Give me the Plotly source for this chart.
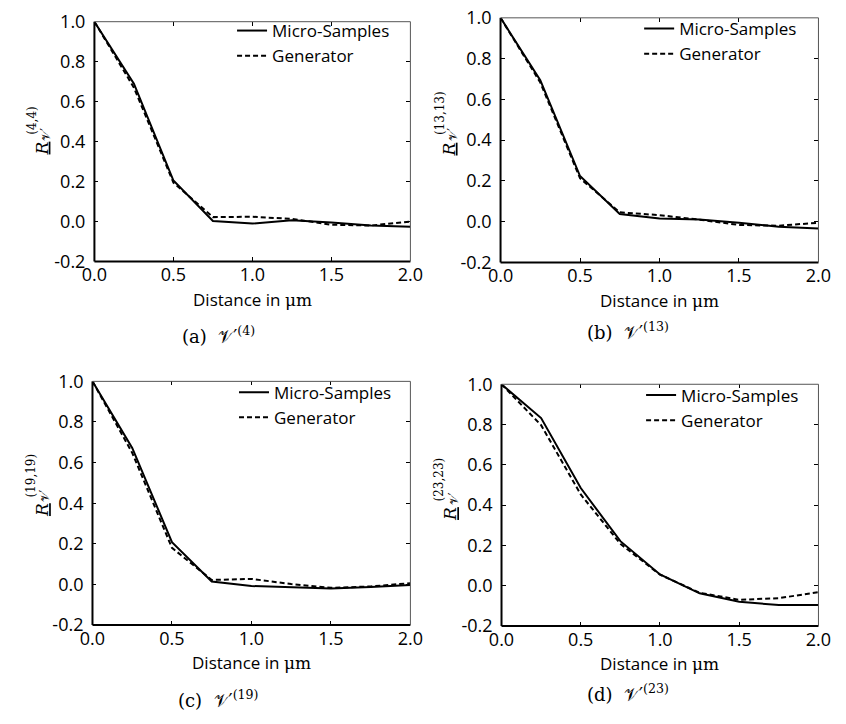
import plotly.graph_objects as go

# Spatial auto-correlation of micro-samples vs. generator output
distance_um = [0.0, 0.25, 0.5, 0.75, 1.0, 1.25, 1.5, 1.75, 2.0]

micro_v4 = [1.0, 0.69, 0.205, 0.003, -0.01, 0.006, -0.005, -0.02, -0.026]
gen_v4 = [1.0, 0.67, 0.195, 0.022, 0.024, 0.013, -0.016, -0.02, 0.0]

micro_v13 = [1.0, 0.694, 0.224, 0.038, 0.016, 0.011, -0.005, -0.025, -0.033]
gen_v13 = [1.0, 0.683, 0.213, 0.046, 0.032, 0.01, -0.016, -0.02, -0.005]

micro_v19 = [1.0, 0.672, 0.208, 0.014, -0.008, -0.013, -0.02, -0.013, -0.003]
gen_v19 = [1.0, 0.648, 0.18, 0.022, 0.027, 0.002, -0.017, -0.01, 0.006]

micro_v23 = [1.0, 0.832, 0.485, 0.221, 0.056, -0.038, -0.08, -0.096, -0.096]
gen_v23 = [1.0, 0.797, 0.453, 0.208, 0.055, -0.035, -0.07, -0.062, -0.032]

x_tickvals = [0.0, 0.5, 1.0, 1.5, 2.0]
x_ticktext = ["0.0", "0.5", "1.0", "1.5", "2.0"]
y_tickvals = [-0.2, 0.0, 0.2, 0.4, 0.6, 0.8, 1.0]
y_ticktext = ["-0.2", "0.0", "0.2", "0.4", "0.6", "0.8", "1.0"]

series_names = ["Micro-Samples", "Generator"]
component_ids = [4, 13, 19, 23]
panel_letters = ["a", "b", "c", "d"]

W, H = 846, 724
SANS = "Open Sans"
SERIF = "DejaVu Serif"


def px(x, y):
    return x / W, 1 - y / H


# panel boxes in pixels: left, top, right, bottom
boxes = [(84, 9, 410, 257), (503, 5, 831, 258), (82, 381, 410, 633), (504, 384, 831, 634)]
legend_pos = [(226, 0), (646, -2), (228, 374), (648, 377)]
ylabel_pos = [(30, 140), (450, 141), (30, 514), (451, 518)]
ysup_pos = [(20, 111), (440, 103), (19, 478), (440, 482)]
caption_pos = [(212, 333), (634, 329), (212, 710), (634, 703)]

panels = [(micro_v4, gen_v4), (micro_v13, gen_v13), (micro_v19, gen_v19), (micro_v23, gen_v23)]

fig = go.Figure()
annotations = []
shapes = []
layout = dict(
    width=W, height=H, autosize=False,
    margin=dict(l=0, r=0, t=0, b=0),
    paper_bgcolor="white", plot_bgcolor="white",
    font=dict(family=SANS, size=17, color="black"),
)


def note(x, y, text, family, size, angle=0):
    ax, ay = px(x, y)
    return dict(
        x=ax, y=ay, xref="paper", yref="paper", xanchor="center", yanchor="middle",
        showarrow=False, textangle=angle, text=text,
        font=dict(family=family, size=size, color="black"),
    )


for i, ((micro, gen), box, cid, letter) in enumerate(zip(panels, boxes, component_ids, panel_letters)):
    n = "" if i == 0 else str(i + 1)
    L, T, R, B = box
    x0, y1 = px(L, T)
    x1, y0 = px(R, B)
    leg = "legend" + n

    fig.add_trace(go.Scatter(
        x=distance_um, y=micro, mode="lines", name=series_names[0],
        line=dict(color="black", width=2), xaxis="x" + n, yaxis="y" + n, legend=leg,
    ))
    fig.add_trace(go.Scatter(
        x=distance_um, y=gen, mode="lines", name=series_names[1],
        line=dict(color="black", width=2, dash="5px,3px"), xaxis="x" + n, yaxis="y" + n, legend=leg,
    ))

    axis_common = dict(
        showgrid=False, zeroline=False, showline=False, mirror="ticks",
        ticks="inside", ticklen=4, tickwidth=1, tickcolor="black",
        tickfont=dict(family=SANS, size=18, color="black"),
    )
    layout["xaxis" + n] = dict(
        domain=[x0, x1], anchor="y" + n, range=[0, 2],
        tickvals=x_tickvals, ticktext=x_ticktext, ticklabelstandoff=1, **axis_common,
    )
    layout["yaxis" + n] = dict(
        domain=[y0, y1], anchor="x" + n, range=[-0.2, 1.0],
        tickvals=y_tickvals, ticktext=y_ticktext, ticklabelstandoff=8, **axis_common,
    )

    lx, ly = px(*legend_pos[i])
    layout[leg] = dict(
        x=lx, y=ly, xanchor="left", yanchor="top",
        bgcolor="rgba(0,0,0,0)", borderwidth=0,
        font=dict(family=SANS, size=17, color="black"),
        tracegroupgap=0,
    )

    # frame: dark left/bottom, lighter top/right
    xr, yr = "x" + n + " domain", "y" + n + " domain"
    shapes += [
        dict(type="line", xref=xr, yref=yr, x0=0, x1=0, y0=0, y1=1, line=dict(color="black", width=2)),
        dict(type="line", xref=xr, yref=yr, x0=0, x1=1, y0=0, y1=0, line=dict(color="black", width=2)),
        dict(type="line", xref=xr, yref=yr, x0=0, x1=1, y0=1, y1=1, line=dict(color="#555555", width=1)),
        dict(type="line", xref=xr, yref=yr, x0=1, x1=1, y0=0, y1=1, line=dict(color="#555555", width=1)),
    ]

    # x-axis title
    annotations.append(note(
        (L + R) / 2, B + 39,
        "Distance in <span style='font-family:%s'>μm</span>" % SERIF, SANS, 17,
    ))

    # y-axis title: underlined R with subscript V′ and superscript (k,k)
    rx, ry = ylabel_pos[i]
    annotations.append(note(rx, ry, "<u><i>R</i></u>", SERIF, 17, -90))
    annotations.append(note(rx + 4, ry - 15, "𝒱′", SERIF, 12, -90))
    annotations.append(note(ysup_pos[i][0], ysup_pos[i][1], "(%d,%d)" % (cid, cid), SERIF, 12, -90))

    # sub-figure caption
    annotations.append(note(
        caption_pos[i][0], caption_pos[i][1],
        "(%s)  𝒱′<sup>(%d)</sup>" % (letter, cid), SERIF, 18,
    ))

layout["annotations"] = annotations
layout["shapes"] = shapes
layout["showlegend"] = True
fig.update_layout(**layout)

fig.write_html("out.html")
